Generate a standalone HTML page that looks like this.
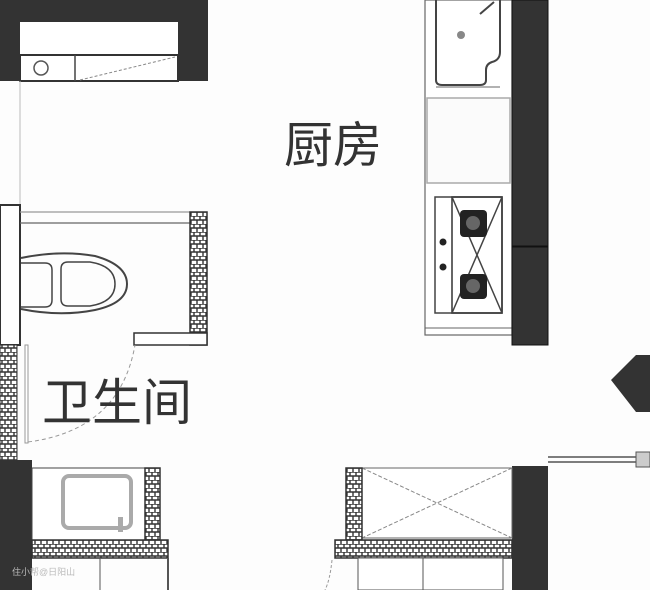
<!DOCTYPE html><html><head><meta charset="utf-8"><style>body{margin:0;background:#fff}svg{display:block}</style></head><body>
<svg width="650" height="590" viewBox="0 0 650 590" xmlns="http://www.w3.org/2000/svg">
<defs><pattern id="br" width="6" height="8" patternUnits="userSpaceOnUse"><rect width="6" height="8" fill="#fff"/><path d="M0 0H6M0 4H6M2 0V4M5 4V8" stroke="#333" stroke-width="1.4" fill="none"/></pattern></defs>
<rect width="650" height="590" fill="#fdfdfd"/>
<rect x="0" y="0" width="208" height="81" fill="#333"/>
<rect x="20" y="22" width="158" height="59" fill="#fff"/>
<rect x="20" y="55" width="158" height="26" fill="#fff" stroke="#333" stroke-width="2"/>
<line x1="75" y1="55" x2="75" y2="81" stroke="#444" stroke-width="1.5"/>
<circle cx="41" cy="68" r="7" fill="none" stroke="#555" stroke-width="1.5"/>
<line x1="80" y1="80" x2="175" y2="57" stroke="#888" stroke-width="1" stroke-dasharray="3 2"/>
<line x1="20" y1="81" x2="20" y2="205" stroke="#bbb" stroke-width="1"/>
<rect x="0" y="205" width="20" height="140" fill="#fff" stroke="#333" stroke-width="2"/>
<line x1="20" y1="212" x2="190" y2="212" stroke="#999" stroke-width="1.2"/>
<line x1="20" y1="223" x2="190" y2="223" stroke="#666" stroke-width="1.2"/>
<rect x="190" y="212" width="17" height="133" fill="url(#br)" stroke="#333" stroke-width="1.5"/>
<path d="M21 258 Q60 250 95 256 Q127 265 127 284 Q127 303 95 310 Q60 317 21 309" fill="none" stroke="#444" stroke-width="2"/>
<path d="M21 263 H45 Q52 263 52 270 V300 Q52 307 45 307 H21" fill="none" stroke="#444" stroke-width="1.5"/>
<path d="M68 262 H90 Q115 266 115 284 Q115 302 90 306 H68 Q61 306 61 299 V269 Q61 262 68 262Z" fill="none" stroke="#444" stroke-width="1.5"/>
<rect x="134" y="333" width="73" height="12" fill="#fff" stroke="#333" stroke-width="1.5"/>
<rect x="0" y="345" width="17" height="115" fill="url(#br)" stroke="#333" stroke-width="1"/>
<rect x="25" y="345" width="3" height="98" fill="#fff" stroke="#999" stroke-width="1"/>
<path d="M28 442 Q120 430 135 345" fill="none" stroke="#999" stroke-width="1" stroke-dasharray="4 3"/>
<text x="42" y="420" font-family="Liberation Sans, Noto Sans CJK SC, sans-serif" font-size="50" fill="#333">卫生间</text>
<text x="284" y="162" font-family="Liberation Sans, Noto Sans CJK SC, sans-serif" font-size="49" fill="#333">厨房</text>
<rect x="0" y="460" width="32" height="130" fill="#333"/>
<rect x="32" y="468" width="128" height="72" fill="#fff" stroke="#444" stroke-width="1"/>
<rect x="63" y="476" width="68" height="52" rx="6" fill="none" stroke="#aaa" stroke-width="4"/>
<rect x="118" y="517" width="5" height="15" fill="#aaa"/>
<rect x="145" y="468" width="15" height="72" fill="url(#br)" stroke="#333" stroke-width="1.5"/>
<rect x="32" y="540" width="136" height="18" fill="url(#br)" stroke="#333" stroke-width="1.5"/>
<line x1="100" y1="558" x2="100" y2="590" stroke="#555"/>
<line x1="168" y1="558" x2="168" y2="590" stroke="#555" stroke-width="2"/>
<text x="12" y="575" font-family="Liberation Sans, Noto Sans CJK SC, sans-serif" font-size="9" fill="#bbb">住小帮@日阳山</text>
<rect x="425" y="0" width="87" height="335" fill="#fff" stroke="#666" stroke-width="1.2"/>
<line x1="425" y1="328" x2="512" y2="328" stroke="#666"/>
<path d="M436 0 V80 Q436 85 442 85 H480 Q486 85 486 80 V70 Q486 64 492 62 Q500 60 500 52 V0" fill="none" stroke="#444" stroke-width="2"/>
<line x1="436" y1="87" x2="500" y2="87" stroke="#666"/>
<circle cx="461" cy="35" r="4" fill="#888"/>
<line x1="480" y1="14" x2="494" y2="2" stroke="#444" stroke-width="2"/>
<rect x="427" y="98" width="83" height="85" fill="#fbfbfb" stroke="#aaa" stroke-width="1.5"/>
<rect x="435" y="197" width="67" height="116" fill="#fff" stroke="#444" stroke-width="1.5"/>
<rect x="452" y="197" width="50" height="116" fill="none" stroke="#333" stroke-width="1.5"/>
<path d="M452 197 L502 313 M502 197 L452 313" stroke="#444" stroke-width="1.5"/>
<rect x="460" y="210" width="27" height="27" rx="4" fill="#222"/>
<rect x="460" y="274" width="27" height="25" rx="4" fill="#222"/>
<circle cx="473" cy="223" r="7" fill="#666"/><circle cx="473" cy="286" r="7" fill="#666"/>
<circle cx="443" cy="242" r="3.5" fill="#222"/><circle cx="443" cy="267" r="3.5" fill="#222"/>
<rect x="512" y="0" width="36" height="246" fill="#333" stroke="#111"/>
<rect x="512" y="247" width="36" height="98" fill="#333" stroke="#111"/>
<polygon points="611,380 636,355 650,355 650,412 636,412" fill="#333"/>
<line x1="548" y1="457" x2="650" y2="457" stroke="#555" stroke-width="1.5"/>
<line x1="548" y1="462" x2="650" y2="462" stroke="#555" stroke-width="1.5"/>
<rect x="636" y="452" width="14" height="15" fill="#ccc" stroke="#555"/>
<rect x="512" y="466" width="36" height="124" fill="#333"/>
<rect x="362" y="468" width="150" height="70" fill="#fff" stroke="#666"/>
<path d="M362 468 L512 538 M512 468 L362 538" stroke="#888" stroke-width="1" stroke-dasharray="4 2"/>
<rect x="346" y="468" width="16" height="72" fill="url(#br)" stroke="#333" stroke-width="1.5"/>
<rect x="335" y="540" width="177" height="18" fill="url(#br)" stroke="#333" stroke-width="1.5"/>
<rect x="358" y="558" width="145" height="32" fill="#fff" stroke="#555"/>
<line x1="423" y1="558" x2="423" y2="590" stroke="#555"/>
<path d="M332 560 Q330 580 325 590" fill="none" stroke="#999" stroke-dasharray="3 2"/>
</svg></body></html>
